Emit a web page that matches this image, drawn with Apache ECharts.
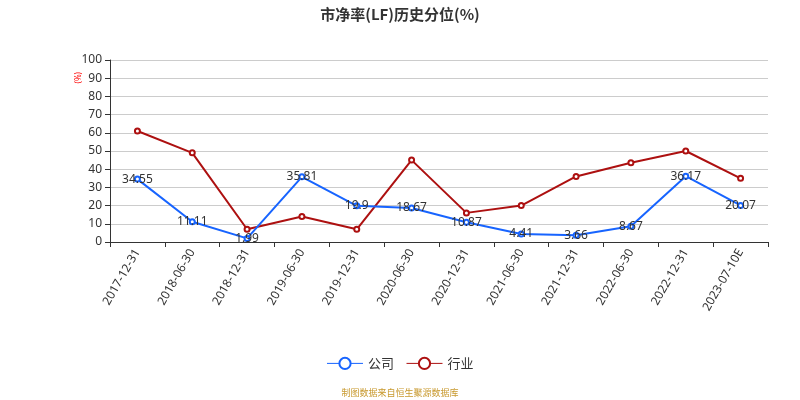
<!DOCTYPE html>
<html>
	<head>
		<meta charset="utf-8" />
		<title></title>
		<script type="text/javascript" src="https://cdn.jsdelivr.net/npm/echarts@6/dist/echarts.min.js"></script>
	</head>
	<body style="margin:0;">
		<div id="chart" style="width: 800px;height:400px;"></div>
	</body>
</html>
<script type="text/javascript">
	var categories = ['2017-12-31', '2018-06-30', '2018-12-31', '2019-06-30', '2019-12-31', '2020-06-30',
		'2020-12-31', '2021-06-30', '2021-12-31', '2022-06-30', '2022-12-31', '2023-07-10E'];
	var companyValues = [34.55, 11.11, 1.99, 35.81, 19.9, 18.67, 10.87, 4.41, 3.66, 8.67, 36.17, 20.07];
	var industryValues = [61, 49, 7, 14, 7, 45, 16, 20, 36, 43.5, 50, 35];
	var yTicks = { min: 0, max: 100, interval: 10 };

	var chart = echarts.init(document.getElementById('chart'));
	chart.setOption({
		backgroundColor: '#fff',
		animation: false,
		title: {
			text: '市净率(LF)历史分位(%)',
			left: 'center',
			top: 2,
			textStyle: { fontSize: 15, fontWeight: 'bold', color: '#333', fontFamily: 'Noto Sans CJK SC' }
		},
		graphic: [{
			type: 'text',
			left: 75,
			top: 72,
			rotation: Math.PI / 2,
			style: { text: '(%)', fill: '#ff0000', fontSize: 8, fontFamily: 'Noto Sans' }
		}, {
			type: 'text',
			left: 'center',
			top: 388,
			style: { text: '制图数据来自恒生聚源数据库', fill: '#c8992e', fontSize: 9, fontFamily: 'Noto Sans CJK SC' }
		}],
		legend: {
			bottom: 25,
			left: 'center',
			itemWidth: 36,
			itemHeight: 14,
			itemGap: 12,
			lineStyle: { width: 1 },
			textStyle: { fontSize: 13, color: '#333', fontFamily: 'Noto Sans CJK SC' },
			data: ['公司', '行业']
		},
		grid: { left: 110, right: 32, top: 60, bottom: 158 },
		xAxis: {
			type: 'category',
			data: categories,
			boundaryGap: true,
			axisLine: { lineStyle: { color: '#333' } },
			axisTick: { show: true, alignWithLabel: false, lineStyle: { color: '#333' } },
			axisLabel: { rotate: 60, color: '#333', fontSize: 12, interval: 0, margin: 8, fontFamily: 'Noto Sans' }
		},
		yAxis: {
			type: 'value',
			min: yTicks.min,
			max: yTicks.max,
			interval: yTicks.interval,
			axisLine: { show: true, lineStyle: { color: '#333' } },
			axisTick: { show: true, lineStyle: { color: '#333' } },
			axisLabel: { color: '#333', fontSize: 12, fontFamily: 'Noto Sans' },
			splitLine: { lineStyle: { color: '#ccc' } }
		},
		series: [{
			name: '公司',
			type: 'line',
			data: companyValues,
			symbol: 'emptyCircle',
			symbolSize: 5,
			lineStyle: { width: 2, color: '#1764ff' },
			itemStyle: { color: '#1764ff' },
			label: { show: true, position: 'inside', color: '#333', fontSize: 12, fontFamily: 'Noto Sans' },
			z: 3
		}, {
			name: '行业',
			type: 'line',
			data: industryValues,
			symbol: 'emptyCircle',
			symbolSize: 5,
			lineStyle: { width: 2, color: '#ad1010' },
			itemStyle: { color: '#ad1010' },
			z: 2
		}]
	});
</script>
